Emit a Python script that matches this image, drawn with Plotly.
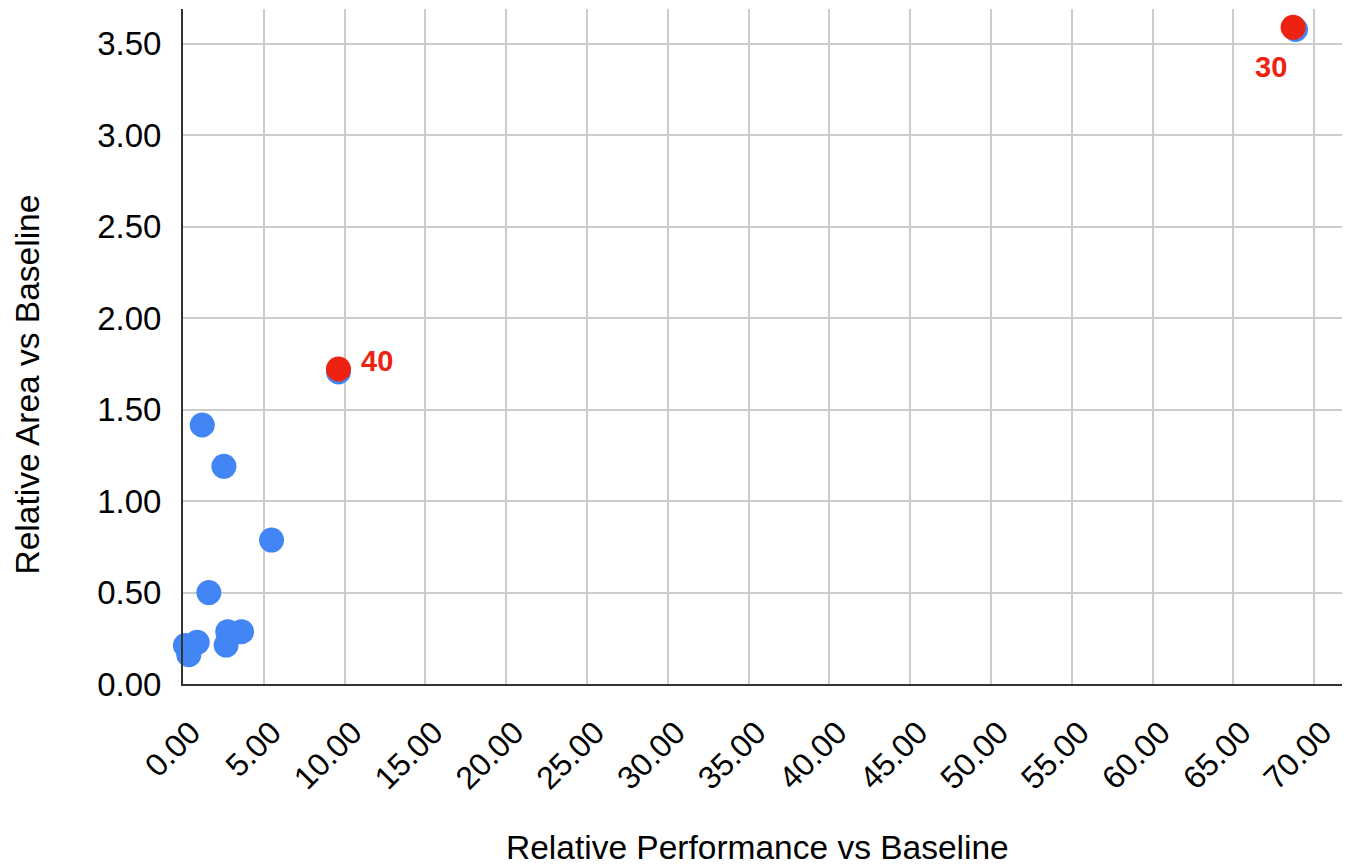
import plotly.graph_objects as go

# Blue series: all configurations
perf_all = [0.15, 0.36, 0.88, 1.19, 1.60, 2.53, 2.67, 2.77, 3.62, 5.48, 9.62, 68.84]
area_all = [0.21, 0.16, 0.228, 1.416, 0.50, 1.19, 0.213, 0.286, 0.286, 0.787, 1.706, 3.578]

# Red series: highlighted configurations
perf_hl = [68.69, 9.62]
area_hl = [3.59, 1.722]
labels_hl = ["30", "40"]

x_ticks = [i * 5 for i in range(15)]
y_ticks = [i * 0.5 for i in range(8)]

BLUE = "#4285f4"
RED = "#ee2211"
FONT = "Liberation Sans, Arial, sans-serif"

fig = go.Figure()
fig.add_trace(go.Scatter(x=perf_all, y=area_all, mode="markers",
                         marker=dict(color=BLUE, size=25, line=dict(width=0)),
                         showlegend=False, cliponaxis=False))
fig.add_trace(go.Scatter(x=perf_hl, y=area_hl, mode="markers",
                         marker=dict(color=RED, size=25, line=dict(width=0)),
                         showlegend=False, cliponaxis=False))

shifts = [(-22, -40), (39, 8)]
for xv, yv, t, (dx, dy) in zip(perf_hl, area_hl, labels_hl, shifts):
    fig.add_annotation(x=xv, y=yv, text="<b>%s</b>" % t, showarrow=False,
                       xshift=dx, yshift=dy,
                       font=dict(color=RED, size=29, family=FONT))

fig.add_annotation(xref="paper", yref="paper", x=-0.1338, y=0.443,
                   xanchor="center", yanchor="middle",
                   text="Relative Area vs Baseline", textangle=-90,
                   showarrow=False, font=dict(size=33.5, color="#000", family=FONT))
fig.add_annotation(xref="paper", yref="paper", x=0.494, y=-0.2415,
                   xanchor="center", yanchor="middle",
                   text="Relative Performance vs Baseline",
                   showarrow=False, font=dict(size=33.5, color="#000", family=FONT))

fig.update_layout(
    width=1342, height=857,
    margin=dict(l=174.5, r=5, t=1, b=181),
    plot_bgcolor="white", paper_bgcolor="white",
    font=dict(family=FONT, color="#000"),
    xaxis=dict(range=[0, 71.9], tickvals=x_ticks, tickformat=".2f",
               tickangle=-45, showgrid=True, gridcolor="#cccccc", gridwidth=1.5,
               showline=True, linecolor="#333333", linewidth=2,
               zeroline=False, tickfont=dict(size=32),
               ticklabelstandoff=15, ticklabelshift=8),
    yaxis=dict(range=[0, 3.69], tickvals=y_ticks, tickformat=".2f",
               showgrid=True, gridcolor="#cccccc", gridwidth=1.5,
               showline=True, linecolor="#333333", linewidth=2,
               zeroline=False, tickfont=dict(size=33),
               ticklabelstandoff=13),
)

fig.write_html("out.html")
